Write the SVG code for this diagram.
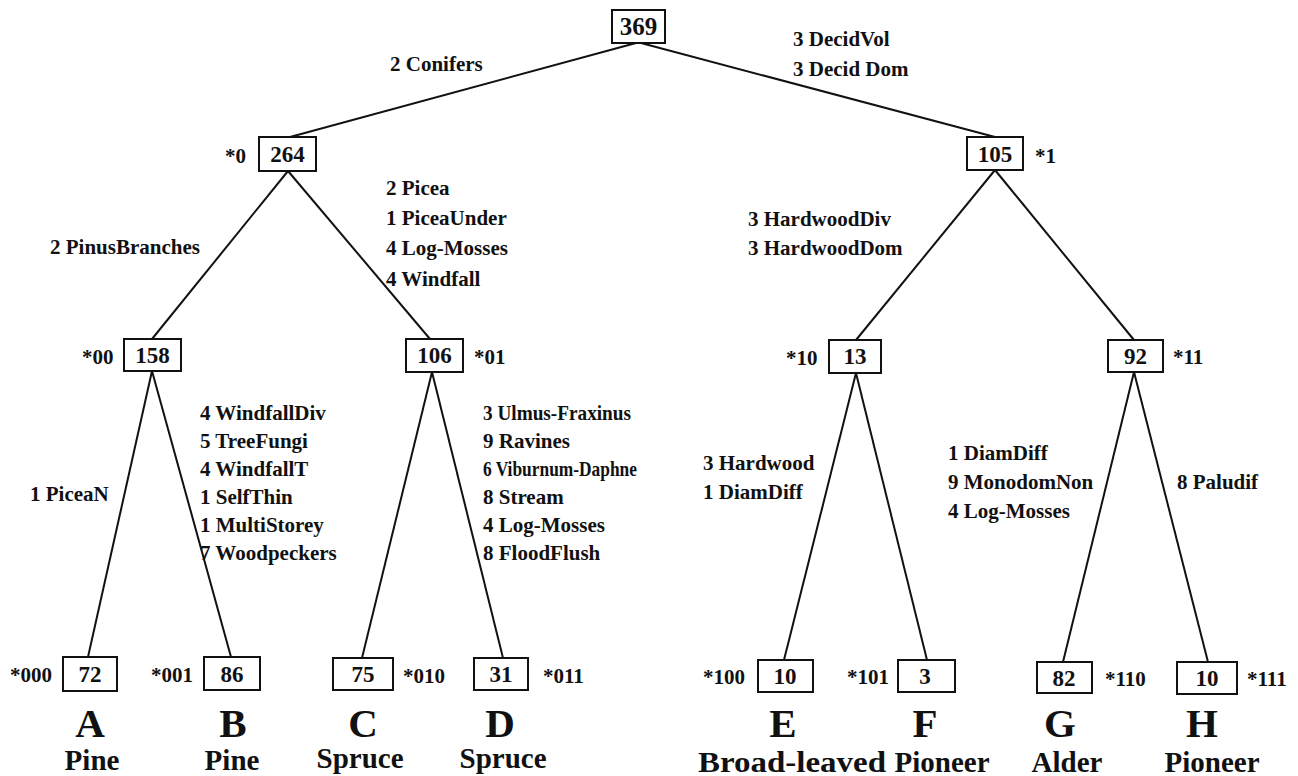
<svg xmlns="http://www.w3.org/2000/svg" width="1298" height="776" viewBox="0 0 1298 776">
<style>
text{font-family:"Liberation Serif","Times New Roman",serif;font-weight:bold;fill:#111}
.box{fill:#fff;stroke:#111;stroke-width:2}
.num{font-size:23px;text-anchor:middle}
.root{font-size:25px;text-anchor:middle}
.lbl{font-size:21px}
.star{font-size:21px}
.big{font-size:41px;text-anchor:middle}
.cls{font-size:29px;text-anchor:middle}
.edge{stroke:#111;stroke-width:2;fill:none}
</style>
<rect width="1298" height="776" fill="#fff"/>
<g id="connectors">
<line class="edge" x1="636" y1="43" x2="290" y2="137"/>
<line class="edge" x1="641" y1="43" x2="995" y2="137"/>
<line class="edge" x1="288" y1="171" x2="152" y2="339"/>
<line class="edge" x1="288" y1="171" x2="430" y2="339"/>
<line class="edge" x1="995" y1="170" x2="856" y2="340"/>
<line class="edge" x1="995" y1="170" x2="1134" y2="340"/>
<line class="edge" x1="152" y1="371" x2="88" y2="657"/>
<line class="edge" x1="152" y1="371" x2="231" y2="657"/>
<line class="edge" x1="432" y1="372" x2="362" y2="658"/>
<line class="edge" x1="432" y1="372" x2="503" y2="658"/>
<line class="edge" x1="856" y1="373" x2="784" y2="660"/>
<line class="edge" x1="856" y1="373" x2="927" y2="660"/>
<line class="edge" x1="1134" y1="372" x2="1063" y2="662"/>
<line class="edge" x1="1134" y1="372" x2="1208" y2="662"/>
</g>
<g id="edge-labels">
<text class="lbl" x="390" y="71">2 Conifers</text>
<text class="lbl" x="793" y="46">3 DecidVol</text>
<text class="lbl" x="793" y="76">3 Decid Dom</text>
<text class="lbl" x="50" y="254">2 PinusBranches</text>
<text class="lbl" x="386" y="195">2 Picea</text>
<text class="lbl" x="386" y="225">1 PiceaUnder</text>
<text class="lbl" x="386" y="255">4 Log-Mosses</text>
<text class="lbl" x="386" y="286">4 Windfall</text>
<text class="lbl" x="748" y="226">3 HardwoodDiv</text>
<text class="lbl" x="748" y="255">3 HardwoodDom</text>
<text class="lbl" x="30" y="501">1 PiceaN</text>
<text class="lbl" x="200" y="420">4 WindfallDiv</text>
<text class="lbl" x="200" y="448">5 TreeFungi</text>
<text class="lbl" x="200" y="476">4 WindfallT</text>
<text class="lbl" x="200" y="504">1 SelfThin</text>
<text class="lbl" x="200" y="532">1 MultiStorey</text>
<text class="lbl" x="200" y="560">7 Woodpeckers</text>
<text class="lbl" x="483" y="420" textLength="148" lengthAdjust="spacingAndGlyphs">3 Ulmus-Fraxinus</text>
<text class="lbl" x="483" y="448">9 Ravines</text>
<text class="lbl" x="483" y="476" textLength="154" lengthAdjust="spacingAndGlyphs">6 Viburnum-Daphne</text>
<text class="lbl" x="483" y="504">8 Stream</text>
<text class="lbl" x="483" y="532">4 Log-Mosses</text>
<text class="lbl" x="483" y="560">8 FloodFlush</text>
<text class="lbl" x="703" y="470">3 Hardwood</text>
<text class="lbl" x="703" y="499">1 DiamDiff</text>
<text class="lbl" x="948" y="460">1 DiamDiff</text>
<text class="lbl" x="948" y="489">9 MonodomNon</text>
<text class="lbl" x="948" y="518">4 Log-Mosses</text>
<text class="lbl" x="1177" y="489">8 Paludif</text>
</g>
<g id="n369"><rect class="box" x="612" y="10" width="53" height="33"/><text class="root" x="638.5" y="35">369</text></g>
<g id="n264"><rect class="box" x="259" y="137" width="57" height="34"/><text class="num" x="287.5" y="162">264</text><text class="star" x="225" y="163">*0</text></g>
<g id="n105"><rect class="box" x="967" y="137" width="56" height="33"/><text class="num" x="995" y="162">105</text><text class="star" x="1035" y="163">*1</text></g>
<g id="n158"><rect class="box" x="124" y="339" width="57" height="32"/><text class="num" x="152.5" y="363">158</text><text class="star" x="82" y="364">*00</text></g>
<g id="n106"><rect class="box" x="406" y="339" width="57" height="33"/><text class="num" x="434.5" y="363">106</text><text class="star" x="474" y="364">*01</text></g>
<g id="n13"><rect class="box" x="829" y="340" width="52" height="33"/><text class="num" x="855" y="364">13</text><text class="star" x="786" y="365">*10</text></g>
<g id="n92"><rect class="box" x="1108" y="340" width="55" height="32"/><text class="num" x="1135.5" y="364">92</text><text class="star" x="1173" y="364">*11</text></g>
<g id="nA"><rect class="box" x="63" y="657" width="54" height="34"/><text class="num" x="90" y="682">72</text><text class="star" x="10" y="682">*000</text><text class="big" x="90" y="737">A</text><text class="cls" x="92" y="770">Pine</text></g>
<g id="nB"><rect class="box" x="204" y="657" width="56" height="33"/><text class="num" x="232" y="682">86</text><text class="star" x="151" y="682">*001</text><text class="big" x="233" y="737">B</text><text class="cls" x="232" y="770">Pine</text></g>
<g id="nC"><rect class="box" x="333" y="658" width="60" height="32"/><text class="num" x="363" y="682">75</text><text class="star" x="403" y="683">*010</text><text class="big" x="363" y="737">C</text><text class="cls" x="360" y="768">Spruce</text></g>
<g id="nD"><rect class="box" x="474" y="658" width="54" height="32"/><text class="num" x="501" y="682">31</text><text class="star" x="543" y="683">*011</text><text class="big" x="500" y="737">D</text><text class="cls" x="503" y="768">Spruce</text></g>
<g id="nE"><rect class="box" x="758" y="660" width="55" height="32"/><text class="num" x="785" y="684">10</text><text class="star" x="703" y="684">*100</text><text class="big" x="783" y="737">E</text><text class="cls" x="792" y="772" textLength="188" lengthAdjust="spacingAndGlyphs">Broad-leaved</text></g>
<g id="nF"><rect class="box" x="898" y="660" width="57" height="32"/><text class="num" x="925" y="684">3</text><text class="star" x="847" y="684">*101</text><text class="big" x="925" y="737">F</text><text class="cls" x="942" y="772">Pioneer</text></g>
<g id="nG"><rect class="box" x="1037" y="662" width="55" height="31"/><text class="num" x="1064" y="686">82</text><text class="star" x="1105" y="686">*110</text><text class="big" x="1060" y="737">G</text><text class="cls" x="1067" y="772">Alder</text></g>
<g id="nH"><rect class="box" x="1177" y="662" width="60" height="32"/><text class="num" x="1207" y="686">10</text><text class="star" x="1247" y="686">*111</text><text class="big" x="1202" y="737">H</text><text class="cls" x="1212" y="772">Pioneer</text></g>
</svg>
